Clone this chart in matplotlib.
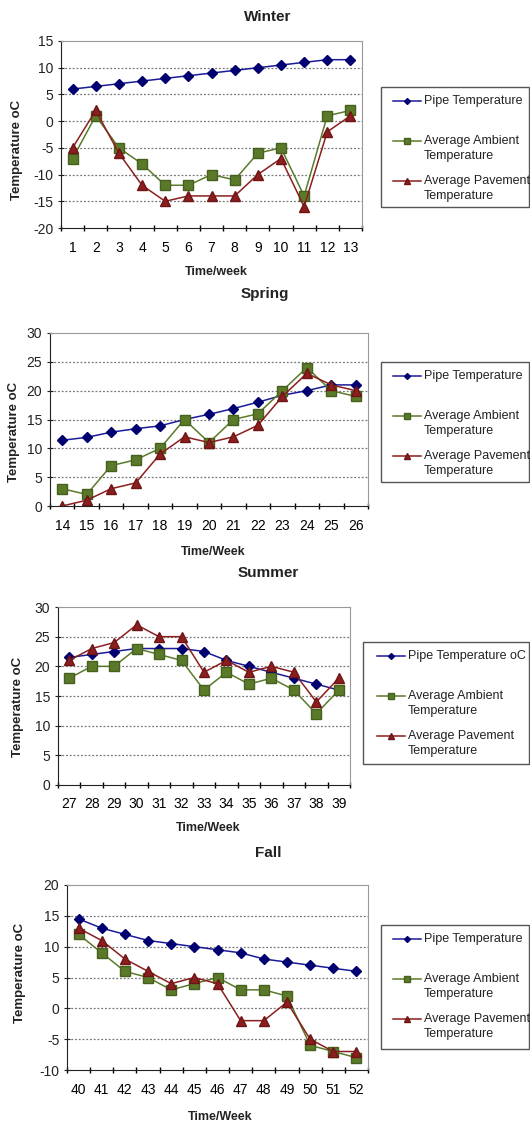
from matplotlib import pyplot as plt
from matplotlib.lines import Line2D
from matplotlib.patches import Rectangle
import numpy as np

plt.rcParams['font.family'] = ['Liberation Sans', 'DejaVu Sans']
plt.rcParams['axes.unicode_minus'] = False

# week numbers per season
weeks_winter = list(range(1, 14))
weeks_spring = list(range(14, 27))
weeks_summer = list(range(27, 40))
weeks_fall = list(range(40, 53))

# Winter
pipe_winter = [6, 6.5, 7, 7.5, 8, 8.5, 9, 9.5, 10, 10.5, 11, 11.5, 11.5]
ambient_winter = [-7, 1, -5, -8, -12, -12, -10, -11, -6, -5, -14, 1, 2]
pavement_winter = [-5, 2, -6, -12, -15, -14, -14, -14, -10, -7, -16, -2, 1]

# Spring
pipe_spring = [11.4, 11.9, 12.8, 13.4, 13.9, 15, 15.9, 16.9, 18, 19.2, 20, 21, 21]
ambient_spring = [3, 2, 7, 8, 10, 15, 11, 15, 16, 20, 24, 20, 19]
pavement_spring = [0, 1, 3, 4, 9, 12, 11, 12, 14, 19, 23, 21, 20]

# Summer
pipe_summer = [21.5, 22, 22.5, 23, 23, 23, 22.5, 21, 20, 19, 18, 17, 16]
ambient_summer = [18, 20, 20, 23, 22, 21, 16, 19, 17, 18, 16, 12, 16]
pavement_summer = [21, 23, 24, 27, 25, 25, 19, 21, 19, 20, 19, 14, 18]

# Fall
pipe_fall = [14.5, 13, 12, 11, 10.5, 10, 9.5, 9, 8, 7.5, 7, 6.5, 6]
ambient_fall = [12, 9, 6, 5, 3, 4, 5, 3, 3, 2, -6, -7, -8]
pavement_fall = [13, 11, 8, 6, 4, 5, 4, -2, -2, 1, -5, -7, -7]

W, H = 530, 1125
fig = plt.figure(figsize=(W / 100, H / 100), dpi=100)

panels = [
    # title, xlabel, weeks, pipe, ambient, pavement, ylim, pipe label,
    # axes box (left, right, top, bottom) px, title pos, xlabel pos, ylabel pos, legend box
    ('Winter', 'Time/week', weeks_winter, pipe_winter, ambient_winter, pavement_winter,
     (-20, 15), 'Pipe Temperature', (61, 362, 41, 228), (268, 17), (216, 272), (17, 150),
     (381, 87, 120)),
    ('Spring', 'Time/Week', weeks_spring, pipe_spring, ambient_spring, pavement_spring,
     (0, 30), 'Pipe Temperature', (50, 368, 333, 506), (265, 294), (213, 552), (14, 432),
     (381, 362, 120)),
    ('Summer', 'Time/Week', weeks_summer, pipe_summer, ambient_summer, pavement_summer,
     (0, 30), 'Pipe Temperature oC', (58, 350, 607, 785), (268, 573), (208, 828), (18, 707),
     (363, 642, 122)),
    ('Fall', 'Time/Week', weeks_fall, pipe_fall, ambient_fall, pavement_fall,
     (-10, 20), 'Pipe Temperature', (67, 368, 885, 1070), (268, 853), (220, 1117), (20, 973),
     (381, 925, 124)),
]

blue = '#1a1a9a'
green = '#5a7a2a'
red = '#8b1e1e'

styles = [
    dict(color=blue, marker='D', markerfacecolor='#000070', markeredgecolor='#000070', markersize=5),
    dict(color=green, marker='s', markerfacecolor=green, markeredgecolor='#46601e', markersize=7.5),
    dict(color=red, marker='^', markerfacecolor=red, markeredgecolor='#6e1414', markersize=7),
]


def px(x, y):
    return x / W, 1 - y / H


for (title, xlab, wk, pipe, amb, pav, ylim, pipe_lab, box, tpos, xpos, ypos, lbox) in panels:
    l, r, t, b = box
    ax = fig.add_axes([l / W, 1 - b / H, (r - l) / W, (b - t) / H])
    for series, st in zip([pipe, amb, pav], styles):
        ax.plot(wk, series, lw=1.1, **st)
    ax.set_xlim(wk[0] - 0.5, wk[-1] + 0.5)
    ax.set_ylim(*ylim)
    ax.set_yticks(np.arange(ylim[0], ylim[1] + 1, 5))
    ax.set_xticks(wk)
    ax.set_xticks(np.arange(wk[0] - 0.5, wk[-1] + 1, 1), minor=True)
    ax.tick_params(axis='x', which='major', length=0, labelsize=10, pad=9)
    ax.tick_params(axis='x', which='minor', length=4, direction='inout', width=1)
    ax.tick_params(axis='y', length=4, direction='inout', labelsize=10, colors='#222222')
    for yv in np.arange(ylim[0] + 5, ylim[1], 5):
        ax.axhline(yv, color='#777777', lw=0.9, ls=(0, (1.5, 1.5)), zorder=0)
    ax.spines['top'].set_color('#999999')
    ax.spines['right'].set_color('#999999')
    ax.spines['left'].set_color('#222222')
    ax.spines['bottom'].set_color('#222222')
    fig.text(*px(*tpos), title, ha='center', va='center',
             fontsize=11, fontweight='bold', color='#222222')
    fig.text(*px(*xpos), xlab, ha='center', va='center',
             fontsize=9, fontweight='bold', color='#222222')
    fig.text(*px(*ypos), 'Temperature oC', ha='center', va='center',
             rotation=90, fontsize=9.5, fontweight='bold', color='#222222')

    # legend box drawn by hand, Excel style (marker lined up with first text line)
    lx, ly, lh = lbox
    fig.patches.append(Rectangle(px(lx, ly + lh), (W - 1 - lx) / W, lh / H,
                                 transform=fig.transFigure, fill=False,
                                 edgecolor='#555555', lw=1.0))
    hx0 = lx + 12 if lx > 370 else lx + 14
    hx1 = hx0 + 28
    rows = [(14, pipe_lab), (54, 'Average Ambient'), (69, 'Temperature'),
            (94, 'Average Pavement'), (109, 'Temperature')]
    handle_rows = [0, 1, 3]
    for i, (dy, txt) in enumerate(rows):
        yy = 1 - (ly + dy) / H
        if i in handle_rows:
            st = dict(styles[handle_rows.index(i)])
            st['markersize'] = st['markersize'] * 0.6
            fig.add_artist(Line2D([hx0 / W, (hx0 + hx1) / 2 / W, hx1 / W], [yy, yy, yy],
                                  markevery=[1], transform=fig.transFigure, lw=1.1, **st))
        fig.text((hx1 + 3) / W, yy, txt, ha='left', va='center', fontsize=9, color='#222222')

fig.savefig('out.png', dpi=100)
